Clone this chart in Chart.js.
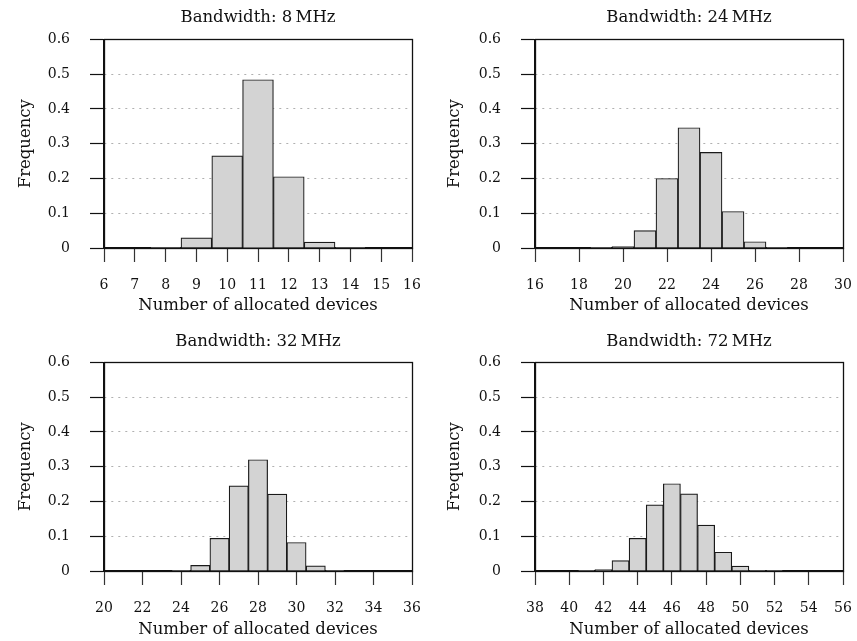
<!DOCTYPE html>
<html>
<head>
<meta charset="utf-8">
<script src="https://cdn.jsdelivr.net/npm/chart.js@4.4.0/dist/chart.umd.min.js"></script>
<style>
  body { margin: 0; background: #fff; }
  #wrap { position: relative; width: 857px; height: 641px; background: #fff; }
  .panel { position: absolute; }
</style>
</head>
<body>
<div id="wrap"></div>
<script>
// datos (frecuencia relativa por número de dispositivos)
const titles = ['Bandwidth: 8\u2009MHz', 'Bandwidth: 24\u2009MHz', 'Bandwidth: 32\u2009MHz', 'Bandwidth: 72\u2009MHz'];

const devices8 = [7, 8, 9, 10, 11, 12, 13, 14, 15];
const freq8 = [0, 0.001, 0.029, 0.265, 0.484, 0.205, 0.017, 0.001, 0];

const devices24 = [17, 18, 19, 20, 21, 22, 23, 24, 25, 26, 27, 28, 29];
const freq24 = [0, 0, 0.001, 0.004, 0.05, 0.2, 0.346, 0.275, 0.105, 0.018, 0.001, 0, 0];

const devices32 = [21, 22, 23, 24, 25, 26, 27, 28, 29, 30, 31, 32, 33, 34, 35];
const freq32 = [0, 0, 0, 0.001, 0.016, 0.094, 0.245, 0.32, 0.221, 0.082, 0.015, 0.001, 0, 0, 0];

const devices72 = [39, 40, 41, 42, 43, 44, 45, 46, 47, 48, 49, 50, 51, 52, 53, 54, 55];
const freq72 = [0, 0, 0.001, 0.004, 0.03, 0.094, 0.19, 0.251, 0.222, 0.132, 0.054, 0.014, 0.002, 0.0005, 0, 0, 0];

const xRanges = [[6, 16], [16, 30], [20, 36], [38, 56]];
const xSteps = [1, 2, 2, 2];
const yMax = 0.6;
const yStep = 0.1;

const xLabel = 'Number of allocated devices';
const yLabel = 'Frequency';

const series = [[devices8, freq8], [devices24, freq24], [devices32, freq32], [devices72, freq72]];

// posición de cada panel en la página
const panels = [
  { left: 0,   top: 0,   w: 428, h: 320, yW: 104, padR: 16, xH: 72, tTop: 8.3,  tBot: 11.3, xtPad: 4.4 },
  { left: 429, top: 0,   w: 428, h: 320, yW: 106, padR: 14, xH: 72, tTop: 8.3,  tBot: 11.3, xtPad: 4.4 },
  { left: 0,   top: 320, w: 428, h: 321, yW: 104, padR: 16, xH: 70, tTop: 11.8, tBot: 10.8, xtPad: 1.4 },
  { left: 429, top: 320, w: 428, h: 321, yW: 106, padR: 14, xH: 70, tTop: 11.8, tBot: 10.8, xtPad: 1.4 }
];

const serif = "'DejaVu Serif', serif";

// marco negro alrededor del área
const framePlugin = {
  id: 'frame',
  afterDraw(chart) {
    const a = chart.chartArea;
    const ctx = chart.ctx;
    ctx.save();
    ctx.strokeStyle = '#111';
    ctx.lineWidth = 1.3;
    ctx.strokeRect(Math.round(a.left) + 0.5, Math.round(a.top) + 0.5,
      Math.round(a.right - a.left), Math.round(a.bottom - a.top));
    ctx.restore();
  }
};

const wrap = document.getElementById('wrap');

panels.forEach((p, k) => {
  const div = document.createElement('div');
  div.className = 'panel';
  div.style.left = p.left + 'px';
  div.style.top = p.top + 'px';
  div.style.width = p.w + 'px';
  div.style.height = p.h + 'px';
  const cv = document.createElement('canvas');
  cv.width = p.w;
  cv.height = p.h;
  cv.style.width = p.w + 'px';
  cv.style.height = p.h + 'px';
  div.appendChild(cv);
  wrap.appendChild(div);

  const [xs, ys] = series[k];

  new Chart(cv, {
    type: 'bar',
    data: {
      datasets: [{
        data: xs.map((x, i) => ({ x: x, y: ys[i] })),
        backgroundColor: '#d3d3d3',
        borderColor: '#1a1a1a',
        borderWidth: 1.2,
        barPercentage: 1,
        categoryPercentage: 1
      }]
    },
    options: {
      responsive: false,
      animation: false,
      devicePixelRatio: 1,
      layout: { padding: { left: 0, right: p.padR, top: 0, bottom: 0 } },
      plugins: {
        legend: { display: false },
        tooltip: { enabled: false },
        title: {
          display: true,
          fullSize: false,
          text: titles[k],
          color: '#111',
          font: { family: serif, size: 16.5, weight: 'normal', lineHeight: 1.2 },
          padding: { top: p.tTop, bottom: p.tBot }
        }
      },
      scales: {
        x: {
          type: 'linear',
          min: xRanges[k][0],
          max: xRanges[k][1],
          offset: false,
          afterFit: s => {
            s.height = p.xH;
            s.paddingLeft = 0;
            s.paddingRight = 0;
          },
          ticks: {
            stepSize: xSteps[k],
            autoSkip: false,
            maxRotation: 0,
            padding: 15,
            color: '#111',
            font: { family: serif, size: 14 }
          },
          grid: {
            offset: false,
            drawOnChartArea: false,
            drawTicks: true,
            tickLength: 14,
            tickColor: '#333',
            tickWidth: 1.2
          },
          border: { display: true, color: '#111', width: 1.3 },
          title: {
            display: true,
            text: xLabel,
            color: '#111',
            font: { family: serif, size: 16.5, lineHeight: 1.2 },
            padding: { top: 0, bottom: p.xtPad }
          }
        },
        y: {
          min: 0,
          max: yMax,
          afterFit: s => { s.width = p.yW; },
          ticks: {
            stepSize: yStep,
            padding: 20,
            color: '#111',
            font: { family: serif, size: 14 },
            callback: v => (Math.abs(v) < 1e-9 ? '0' : v.toFixed(1))
          },
          grid: {
            drawOnChartArea: true,
            tickLength: 14,
            tickColor: '#111',
            tickWidth: 1.2,
            lineWidth: 1,
            color: c => {
              const v = c.tick ? c.tick.value : 0;
              return (Math.abs(v) < 1e-9 || Math.abs(v - yMax) < 1e-9) ? 'rgba(0,0,0,0)' : '#b0b0b0';
            }
          },
          border: { display: true, color: '#111', width: 1.3, dash: [2, 5] },
          title: {
            display: true,
            text: yLabel,
            color: '#111',
            font: { family: serif, size: 16.5, lineHeight: 1.2 },
            padding: { top: 15.4, bottom: 0 }
          }
        }
      }
    },
    plugins: [framePlugin]
  });
});
</script>
</body>
</html>
